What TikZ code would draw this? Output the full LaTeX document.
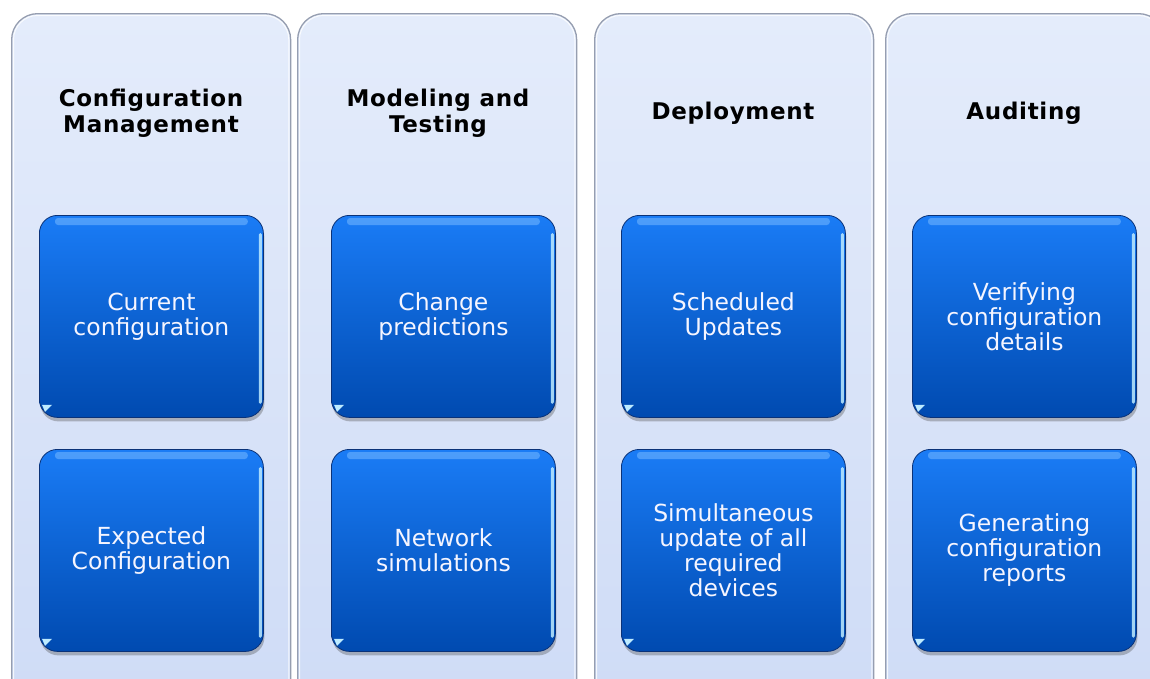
\documentclass[tikz,border=0pt]{standalone}
\usepackage{fontspec}
\setmainfont{DejaVu Sans}
\newfontfamily\headfont[LetterSpace=3]{DejaVu Sans Bold}
\usetikzlibrary{shadows,calc}
\definecolor{panelTop}{RGB}{228,236,251}
\definecolor{panelBot}{RGB}{206,219,246}
\definecolor{panelEdge}{RGB}{150,158,176}
\definecolor{boxTop}{RGB}{26,124,246}
\definecolor{boxBot}{RGB}{0,74,176}
\definecolor{boxEdge}{RGB}{10,50,120}
\definecolor{hiBlue}{RGB}{110,180,255}
\definecolor{hiCyan}{RGB}{190,235,255}
\begin{document}
\begin{tikzpicture}[x=1pt,y=-1pt,
  panel/.style={draw=panelEdge, line width=1.3pt, rounded corners=26pt,
    top color=panelTop, bottom color=panelBot, minimum width=279pt,
    minimum height=720pt, anchor=north west, inner sep=0pt},
  head/.style={font=\headfont\fontsize{23}{26}\selectfont, align=center, text=black},
  bluebox/.style={draw=boxEdge, line width=0.8pt, rounded corners=18pt,
    top color=boxTop, bottom color=boxBot, minimum width=224pt, minimum height=202pt,
    anchor=north west, inner sep=0pt, text=white!96!blue, align=center,
    font=\fontsize{23.5}{25}\selectfont,
    drop shadow={shadow xshift=1pt, shadow yshift=-4pt, opacity=0.35, fill=black!70}}
]
\useasboundingbox (0,0) rectangle (1150,678);
\fill[white] (0,0) rectangle (1150,678);
\clip (0,0) rectangle (1150,678);
% panels
\node[panel] (p1) at (11,13) {};
\node[panel] (p2) at (297,13) {};
\node[panel] (p3) at (594,13) {};
\node[panel] (p4) at (885,13) {};
\foreach \p in {p1,p2,p3,p4}{
  \draw[white, line width=1pt, rounded corners=24pt, opacity=0.8]
    ($(\p.north west)+(2.5,2.5)$) rectangle ($(\p.south east)+(-2.5,-2.5)$);
}
% headings
\node[head] (h1) at (151,113) {Configuration\\Management};
\node[head] (h2) at (438,113) {Modeling and\\Testing};
\node[head] (h3) at (733,113) {Deployment};
\node[head] (h4) at (1024,113) {Auditing};
% boxes
\node[bluebox] (b11) at (39,215) {Current\\configuration};
\node[bluebox] (b12) at (39,449) {Expected\\Configuration};
\node[bluebox] (b21) at (331,215) {Change\\predictions};
\node[bluebox] (b22) at (331,449) {Network\\simulations};
\node[bluebox] (b31) at (621,215) {Scheduled\\Updates};
\node[bluebox] (b32) at (621,449) {Simultaneous\\update of all\\required\\devices};
\node[bluebox] (b41) at (912,215) {Verifying\\configuration\\details};
\node[bluebox] (b42) at (912,449) {Generating\\configuration\\reports};
% highlights
\foreach \b in {b11,b12,b21,b22,b31,b32,b41,b42}{
  \fill[hiBlue, opacity=0.6, rounded corners=3pt]
    ($(\b.north west)+(16,3)$) rectangle ($(\b.north east)+(-16,10)$);
  \fill[hiCyan, opacity=0.85, rounded corners=1.5pt]
    ($(\b.north east)+(-5,18)$) rectangle ($(\b.south east)+(-2,-14)$);
  \fill[hiCyan]
    ($(\b.south west)+(3,-13)$) -- ++(10,0) -- ++(-7,7) -- cycle;
}
\end{tikzpicture}
\end{document}
